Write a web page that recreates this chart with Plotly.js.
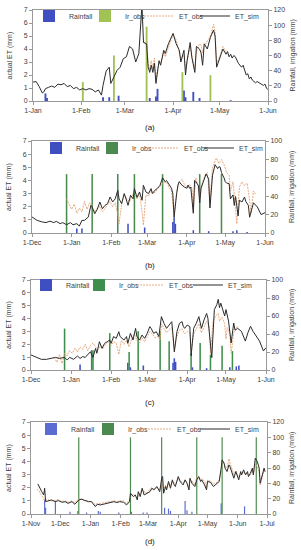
<!DOCTYPE html>
<html><head><meta charset="utf-8">
<script src="https://cdn.plot.ly/plotly-3.0.1.min.js"></script>
<style>html,body{margin:0;padding:0;background:#fff}#chart{width:301px;height:550px}</style>
</head><body><div id="chart"></div>
<script>
// ---------- data (day offset from panel start date, value) ----------
const panelLabels = ['(a)', '(b)', '(c)', '(d)'];
const seriesNames = ['Rainfall', 'Ir_obs', 'ET_obs', 'ET_sim'];
const startDates = ['2015-01-01', '2014-12-01', '2014-12-01', '2014-11-01'];
const endDates = ['2015-06-01', '2015-06-01', '2015-06-01', '2015-07-01'];
const rightMax = [120, 100, 100, 120];
const leftTitle = 'actual ET (mm)';
const rightTitle = 'Rainfall, irrigation (mm)';

// panel (a)
const aSim = [[0,1.45],[2,1.5],[4,1.1],[6,0.62],[7,0.7],[8,0.95],[10,1.05],[12,1.15],[14,1.05],[16,1.3],
  [18,1.25],[20,1.35],[22,1.1],[24,1.2],[26,0.95],[28,1.05],[30,0.85],[32,0.95],[34,0.85],[36,0.95],
  [38,0.9],[40,0.7],[42,0.85],[44,0.45],[45,1.2],[47,2.3],[49,2.6],[50,1.35],[52,1.85],[54,2.35],
  [56,2.6],[58,3.25],[60,3.4],[62,4.2],[64,4.0],[66,3.0],[68,3.65],[70,7.4],[71,4.5],[73,4.4],
  [74,2.6],[75,2.2],[76,2.75],[77,2.2],[78,2.9],[79,1.35],[81,3.1],[82,2.75],[84,3.9],[85,3.65],
  [87,4.4],[89,4.9],[90,5.2],[92,4.4],[94,3.9],[95,3.0],[97,3.9],[98,2.0],[99,3.1],[101,4.5],
  [102,3.4],[104,2.2],[105,4.2],[107,4.0],[108,3.7],[109,2.75],[110,4.4],[112,4.0],[114,4.9],[116,5.45],
  [117,5.0],[118,2.6],[120,3.25],[121,3.65],[122,4.0],[124,3.6],[125,3.8],[126,3.4],[127,3.6],[128,3.3],
  [129,3.5],[130,3.4],[131,3.1],[132,2.9],[134,2.6],[135,2.75],[137,2.0],[138,2.1],[139,1.7],[140,1.85],
  [141,1.6],[143,1.4],[144,1.5],[146,1.35],[148,1.2],[149,1.3],[150,1.0],[151,0.87]];
const aObs = [[71,4.6],[73,4.3],[74,2.9],[75,2.4],[76,3.1],[77,2.5],[78,3.3],[79,1.8],[81,3.0],[82,2.9],
  [84,3.7],[85,3.4],[87,4.1],[89,4.7],[90,5.1],[92,4.7],[94,3.6],[95,3.3],[97,3.5],[98,2.4],
  [99,3.0],[101,4.2],[102,3.6],[104,2.4],[105,3.8],[107,4.4],[108,4.3],[109,3.7],[110,4.2],[112,4.6],
  [114,5.0],[116,5.9],[117,5.3],[118,2.9],[120,3.4],[121,3.8],[122,4.2],[124,3.8],[125,3.6]];
const aRain = [[8,10],[9,4],[45,5],[49,5],[55,7],[75,4],[79,6],[80,16],[97,14],[98,5],[103,12],[107,4],[127,1]];
const aIrr = [[32,25],[52,60],[73,98],[96,38],[114,34]];

// panel (b)
const bSim = [[0,1.22],[4,0.96],[8,0.84],[11,0.79],[14,0.9],[17,0.79],[19,0.89],[22,0.71],[24,0.79],[27,0.63],
  [30,0.79],[32,0.63],[35,0.71],[37,0.53],[39,0.96],[41,0.96],[44,1.22],[46,2.1],[47,1.98],[49,1.47],
  [51,1.8],[53,2.36],[55,1.85],[57,2.1],[59,2.23],[61,2.74],[63,2.36],[65,2.6],[67,3.25],[68,2.6],
  [70,2.23],[72,3.0],[73,2.74],[75,2.1],[77,2.87],[79,2.6],[80,3.38],[82,2.7],[84,3.12],[86,2.49],
  [87,3.63],[89,3.12],[91,3.0],[93,3.38],[94,3.0],[96,3.25],[98,3.4],[100,3.63],[102,4.2],[104,3.9],
  [105,4.0],[107,3.65],[109,3.4],[110,3.0],[111,1.2],[113,3.0],[114,3.65],[115,3.9],[117,3.65],[119,3.5],
  [121,3.4],[122,3.65],[123,3.4],[124,3.5],[126,1.5],[127,4.0],[128,3.9],[130,3.6],[131,2.3],[132,3.4],
  [134,3.9],[135,4.3],[136,4.5],[138,4.1],[139,1.9],[141,4.4],[142,4.9],[143,5.2],[145,4.9],[146,5.05],
  [147,5.0],[148,4.6],[150,4.2],[151,3.9],[152,3.8],[154,3.75],[155,2.6],[157,2.9],[158,2.1],[159,2.77],
  [161,1.3],[162,2.5],[164,2.36],[166,2.74],[167,2.4],[169,2.1],[170,1.2],[172,2.0],[173,2.3],[176,1.98],
  [178,1.6],[179,1.4],[182,1.55]];
const bObs = [[27,2.6],[29,2.2],[31,1.8],[33,2.2],[35,1.5],[37,1.9],[39,1.6],[41,2.4],[43,1.8],[45,2.3],
  [47,1.9],[49,1.6],[51,1.9],[53,2.0],[55,1.6],[57,1.9],[59,2.1],[61,2.4],[63,2.0],[65,2.3],
  [67,1.4],[68,0.7],[70,2.2],[72,2.9],[74,2.6],[76,2.4],[78,2.7],[80,3.3],[82,2.6],[84,3.0],
  [86,1.6],[87,0.6],[89,2.9],[91,2.8],[93,3.3],[95,3.0],[97,3.2],[99,3.5],[101,3.7],[103,3.8],
  [105,3.9],[107,3.5],[109,3.2],[111,1.4],[113,3.1],[115,3.9],[117,4.1],[119,3.7],[121,3.5],[123,3.7],
  [125,3.4],[126,1.7],[128,4.2],[130,3.4],[131,2.6],[133,3.8],[135,4.4],[137,4.6],[139,2.3],[141,5.0],
  [143,5.5],[144,5.7],[146,5.3],[148,5.6],[150,5.2],[152,4.6],[154,4.4],[155,3.2],[157,3.9],[158,2.9],
  [160,0.7],[162,3.5],[164,3.9],[166,3.6],[168,3.8],[170,2.5],[171,1.5],[173,3.2],[175,2.9]];
const bRain = [[35,5],[39,5],[75,10],[88,6],[110,12],[111,17],[112,10],[126,3],[138,2],[157,2],[160,3],[168,1]];
const bIrr = [[27,64],[47,64],[67,64],[80,64],[102,64],[131,64],[148,64]];

// panel (c)
const cSim = [[0,1.17],[4,0.98],[8,0.83],[12,0.83],[16,0.9],[19,0.98],[22,0.9],[26,0.98],[28,0.78],[30,0.98],
  [33,0.83],[36,1.09],[38,0.9],[40,1.04],[42,0.98],[44,1.17],[46,1.42],[48,0.98],[50,1.68],[51,1.3],
  [53,2.2],[55,1.68],[57,2.07],[59,2.2],[61,2.33],[62,2.07],[64,2.6],[66,2.46],[68,2.98],[69,2.6],
  [72,2.33],[74,2.6],[75,2.07],[77,2.85],[79,2.33],[81,3.24],[82,2.6],[84,2.33],[86,2.72],[88,2.46],
  [90,2.85],[92,3.37],[93,3.24],[95,2.85],[97,2.98],[99,2.6],[101,4.15],[103,3.63],[105,3.24],[107,3.5],
  [109,3.76],[110,2.72],[111,1.4],[113,2.98],[115,3.63],[117,3.76],[118,3.37],[119,3.24],[121,3.5],[123,3.37],
  [124,1.1],[126,3.24],[128,3.63],[130,4.15],[132,3.24],[134,3.89],[136,4.4],[137,4.02],[138,3.0],[140,0.96],
  [142,4.7],[144,5.1],[145,5.5],[146,4.85],[147,5.2],[150,4.2],[151,4.7],[153,3.8],[155,2.1],[157,3.65],
  [158,3.1],[160,3.24],[163,3.0],[166,2.25],[168,2.9],[170,3.4],[172,3.0],[175,2.5],[177,2.25],[180,1.48],
  [182,1.74]];
const cObs = [[18,1.0],[20,0.6],[22,1.2],[24,0.5],[26,1.3],[28,1.1],[30,1.5],[32,1.3],[34,1.7],[36,1.4],
  [38,1.8],[40,1.6],[42,2.0],[44,1.5],[46,1.9],[48,2.1],[50,1.8],[52,1.6],[54,1.9],[56,1.7],
  [58,2.0],[60,2.2],[62,1.9],[64,2.2],[66,2.1],[68,1.2],[70,2.3],[72,2.0],[74,2.3],[76,1.8],
  [78,2.4],[80,2.8],[82,2.3],[84,2.1],[86,2.5],[88,2.2],[90,2.6],[92,3.0],[94,2.8],[96,2.5],
  [98,2.6],[100,2.3],[101,3.6],[103,3.2],[105,2.9],[107,3.1],[109,3.3],[110,2.4],[111,1.6],[113,2.6],
  [115,3.1],[117,3.2],[119,2.8],[121,3.0],[123,2.9],[124,1.5],[126,2.8],[128,3.2],[130,3.6],[132,2.9],
  [134,3.3],[136,3.8],[138,3.4],[139,1.3],[141,3.8],[143,4.2],[145,4.4],[146,3.8],[148,4.1],[150,3.6],
  [151,2.4],[152,3.3],[154,2.8],[155,1.3],[157,2.9],[159,3.3],[161,3.4]];
const cRain = [[38,6],[75,8],[77,3],[87,5],[110,8],[111,13],[112,9],[125,3],[136,2],[154,3],[159,4],[161,5]];
const cIrr = [[26,46],[47,22],[48,22],[61,41],[76,20],[83,43],[100,43],[107,32],[124,19],[131,30],[139,17],[148,27],[156,21]];

// panel (d)
const dSim = [[7,2.29],[9,1.96],[11,1.7],[13,1.45],[14,1.96],[15,0.94],[18,0.99],[21,1.07],[25,0.94],[28,1.02],
  [32,0.89],[35,0.94],[38,0.81],[42,0.94],[45,0.74],[49,1.07],[52,1.12],[56,1.02],[59,0.94],[62,0.94],
  [66,0.56],[68,0.74],[71,0.69],[74,0.74],[78,0.81],[81,0.89],[85,0.94],[88,0.87],[91,0.94],[95,0.89],
  [98,0.69],[101,0.94],[102,1.58],[105,1.32],[107,1.45],[109,1.07],[110,1.7],[112,1.32],[114,1.96],[116,1.45],
  [119,1.58],[122,1.7],[124,1.96],[126,1.83],[129,2.09],[132,1.7],[134,2.72],[135,2.85],[136,1.58],[138,2.09],
  [139,1.83],[141,2.47],[143,1.96],[145,2.6],[146,2.34],[148,2.09],[150,2.6],[151,2.85],[153,2.47],[156,2.21],
  [158,2.6],[160,2.34],[162,1.83],[163,2.72],[165,2.34],[168,2.09],[170,2.6],[172,2.85],[174,2.47],[175,2.6],
  [178,2.21],[180,1.83],[181,2.47],[184,2.42],[187,2.09],[191,2.34],[193,2.47],[195,3.49],[196,4.12],[198,3.87],
  [199,3.49],[201,3.23],[203,3.74],[204,3.61],[206,3.1],[208,2.72],[210,3.23],[211,2.98],[213,2.6],[215,3.23],
  [216,2.98],[218,3.36],[220,2.98],[222,3.23],[223,2.85],[225,3.1],[227,3.49],[228,2.98],[230,4.25],[232,4.0],
  [234,3.49],[235,2.34],[237,2.98],[239,3.49],[240,3.23]];
const dObs = [[6,1.9],[8,1.8],[10,1.5],[12,1.3],[14,1.0],[17,1.1],[21,1.0],[24,1.0],[28,1.1],[31,0.95],
  [35,1.0],[38,0.9],[42,1.0],[45,0.85],[48,1.1],[52,1.15],[55,1.0],[59,1.0],[62,0.95],[66,0.7],
  [68,0.8],[71,0.8],[74,0.85],[78,0.9],[81,0.95],[85,1.0],[88,0.95],[91,1.0],[95,1.0],[98,0.8],
  [101,1.1],[102,1.3],[105,1.5],[107,1.4],[109,1.2],[110,1.5],[112,1.6],[114,1.9],[116,1.7],[119,1.6],
  [122,1.9],[124,2.0],[126,1.9],[129,2.0],[132,1.8],[134,2.4],[136,1.9],[138,2.2],[139,2.0],[141,2.3],
  [143,2.1],[145,2.5],[146,2.4],[148,2.3],[150,2.5],[151,2.7],[153,2.5],[156,2.4],[158,2.5],[160,2.4],
  [162,2.0],[163,2.6],[165,2.5],[168,2.2],[170,2.8],[172,2.7],[174,2.6],[175,2.7],[178,2.5],[180,2.0],
  [181,2.6],[184,2.5],[187,2.3],[191,2.4],[193,2.6],[195,3.3],[196,3.8],[198,3.9],[199,3.6],[201,3.5],
  [203,4.2],[204,3.9],[206,3.4],[208,3.0],[210,3.3],[211,3.1],[213,2.8],[215,3.0],[216,3.1],[218,3.2],
  [220,3.0],[222,3.1],[223,2.9],[225,3.0],[227,3.3],[228,3.1],[230,3.8],[232,3.6],[234,3.2],[235,2.2],
  [237,2.7],[239,3.3],[240,3.2]];
const dRain = [[14,19],[15,8],[25,17],[40,3],[48,4],[57,2],[69,4],[71,3],[90,2],[103,3],[115,2],[119,2],
  [137,8],[141,7],[143,4],[158,17],[160,5],[165,3],[195,14],[219,10]];
const dIrr = [[49,100],[102,100],[134,100],[170,100],[196,100],[231,100]];

const simSets = [aSim, bSim, cSim, dSim];
const obsSets = [aObs, bObs, cObs, dObs];
const rainSets = [aRain, bRain, cRain, dRain];
const irrSets = [aIrr, bIrr, cIrr, dIrr];

// ---------- styling / layout ----------
const rainColors = ['#3f4fc2', '#3f4fc2', '#3f4fc2', '#5a6cd2'];
const irrColors = ['#a3c255', '#4a8a4e', '#3f8f4c', '#4a8a4e'];
const obsColor = '#e3a072';
const simColor = '#2b2b2b';
// plot-area pixel boxes [left, right, top, bottom]
const boxes = [[33, 268, 10, 101], [32, 265, 141, 233], [31, 266, 280, 370], [31, 267, 422, 514]];
const captionY = [128, 265, 402, 541];
const legendRowY = [16, 148, 285, 429];
// pixel x where each legend entry's text begins, per panel
const legendTextX = [[69, 125, 179, 235], [76, 132, 184, 239], [66, 119, 169, 228], [71, 128, 177, 235]];
const W = 301, H = 550;
const FONT = 'Liberation Sans, Arial, sans-serif';
const DAY = 86400000;

function toDate(start, d) {
  return new Date(Date.parse(start + 'T00:00:00Z') + d * DAY).toISOString().slice(0, 10);
}

const traces = [];
const layout = {
  width: W, height: H, margin: {l: 0, r: 0, t: 0, b: 0},
  paper_bgcolor: '#fff', plot_bgcolor: 'rgba(0,0,0,0)',
  barmode: 'overlay', showlegend: true,
  font: {family: FONT, size: 7, color: '#404040'},
  annotations: []
};

let legendCount = 0;
function nextLegend(p, k) {
  legendCount++;
  const name = legendCount === 1 ? 'legend' : 'legend' + legendCount;
  layout[name] = {
    orientation: 'h', x: (legendTextX[p][k] - 40) / W, xanchor: 'left',
    y: 1 - legendRowY[p] / H, yanchor: 'middle',
    bgcolor: 'rgba(0,0,0,0)', borderwidth: 0, itemwidth: 30,
    font: {family: FONT, size: 7, color: '#404040'}
  };
  return name;
}

for (let p = 0; p < 4; p++) {
  const n = p + 1;
  const xr = p === 0 ? 'x' : 'x' + n;
  const yRain = p === 0 ? 'y' : 'y' + (2 * p + 1);
  const yET = 'y' + (2 * p + 2);
  const st = startDates[p];
  const [L, R, T, B] = boxes[p];
  const xd = [L / W, R / W];
  const yd = [1 - B / H, 1 - T / H];

  traces.push({type: 'bar', name: seriesNames[0], legend: nextLegend(p, 0), xaxis: xr, yaxis: yRain,
    x: rainSets[p].map(v => toDate(st, v[0])), y: rainSets[p].map(v => v[1]),
    width: 1.2 * DAY, marker: {color: rainColors[p], line: {width: 0}}});
  traces.push({type: 'bar', name: seriesNames[1], legend: nextLegend(p, 1), xaxis: xr, yaxis: yRain,
    x: irrSets[p].map(v => toDate(st, v[0])), y: irrSets[p].map(v => v[1]),
    width: 1.2 * DAY, marker: {color: irrColors[p], line: {width: 0}}});
  traces.push({type: 'scatter', mode: 'lines', name: seriesNames[2], legend: nextLegend(p, 2), xaxis: xr, yaxis: yET,
    x: obsSets[p].map(v => toDate(st, v[0])), y: obsSets[p].map(v => v[1]),
    line: {color: obsColor, width: 0.9, dash: '2px,1px'}});
  traces.push({type: 'scatter', mode: 'lines', name: seriesNames[3], legend: nextLegend(p, 3), xaxis: xr, yaxis: yET,
    x: simSets[p].map(v => toDate(st, v[0])), y: simSets[p].map(v => v[1]),
    line: {color: simColor, width: 1}});

  const axName = s => s.replace('x', 'xaxis').replace('y', 'yaxis');
  layout[axName(xr)] = {
    type: 'date', domain: xd, anchor: yRain, range: [st, endDates[p]],
    tick0: st, dtick: 'M1', tickformat: '%-d-%b', ticks: 'outside', ticklen: 3,
    tickcolor: '#999', showline: true, linecolor: '#999', linewidth: 1, mirror: true,
    showgrid: false, zeroline: false, automargin: false,
    tickfont: {family: FONT, size: 7, color: '#404040'}
  };
  layout[axName(yRain)] = {
    domain: yd, anchor: xr, side: 'right', range: [0, rightMax[p]], dtick: 20,
    ticks: 'outside', ticklen: 3, tickcolor: '#999', showline: true, linecolor: '#999',
    showgrid: false, zeroline: false, automargin: false,
    tickfont: {family: FONT, size: 7, color: '#404040'}
  };
  layout[axName(yET)] = {
    overlaying: yRain, anchor: xr, side: 'left', range: [0, 7], dtick: 1,
    ticks: 'outside', ticklen: 3, tickcolor: '#999', showline: true, linecolor: '#999',
    showgrid: false, zeroline: false, automargin: false,
    tickfont: {family: FONT, size: 7, color: '#404040'}
  };
  const ymid = 1 - (T + B) / 2 / H;
  layout.annotations.push({text: leftTitle, xref: 'paper', yref: 'paper', x: 9 / W, y: ymid,
    textangle: -90, showarrow: false, xanchor: 'center', yanchor: 'middle',
    font: {family: FONT, size: 7, color: '#404040'}});
  layout.annotations.push({text: rightTitle, xref: 'paper', yref: 'paper', x: 292 / W, y: ymid,
    textangle: -90, showarrow: false, xanchor: 'center', yanchor: 'middle',
    font: {family: FONT, size: 7, color: '#404040'}});
  layout.annotations.push({text: panelLabels[p], xref: 'paper', yref: 'paper', x: 150 / W, y: 1 - captionY[p] / H,
    showarrow: false, xanchor: 'center', yanchor: 'middle',
    font: {family: FONT, size: 8, color: '#202020'}});
}

Plotly.newPlot('chart', traces, layout, {staticPlot: true, displayModeBar: false});
</script></body></html>
